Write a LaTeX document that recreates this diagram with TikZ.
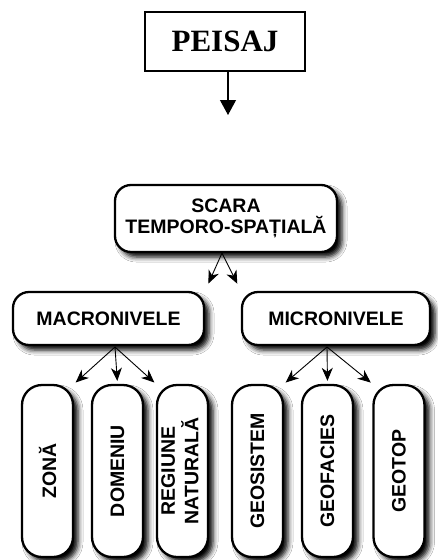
\documentclass[tikz,border=0pt]{standalone}
\usepackage{fontspec}
\setmainfont{Liberation Serif}
\setsansfont{Liberation Sans}
\usetikzlibrary{arrows.meta,shadows.blur}

\tikzset{
  titlebox/.style={draw, line width=1.3pt, minimum width=160pt, minimum height=59pt,
    inner sep=0pt, font=\fontsize{31}{34}\selectfont\bfseries},
  levelbox/.style={draw, line width=2.3pt, fill=white, rounded corners=16pt,
    inner sep=0pt, align=center, font=\sffamily\bfseries\fontsize{19.5}{20.5}\selectfont,
    blur shadow={shadow xshift=5pt, shadow yshift=-5pt, shadow blur radius=5pt, shadow opacity=100}},
  unitbox/.style={levelbox, rounded corners=20pt, minimum width=51pt, minimum height=172pt},
  link/.style={line width=0.9pt, -{Stealth[length=13pt, width=11pt, inset=4pt]}},
  down/.style={line width=1.1pt, -{Triangle[length=15pt, width=16pt]}}
}

\begin{document}
\begin{tikzpicture}[x=1pt, y=-1pt]
  \useasboundingbox[fill=white] (0,0) rectangle (437,560);

  % top concept and its arrow
  \node[titlebox] (peisaj) at (225,41.5) {PEISAJ};
  \coordinate (peisajout) at (228,71);
  \coordinate (peisajend) at (228,115);
  \draw[down] (peisajout) -- (peisajend);

  % scale levels
  \node[levelbox, minimum width=222pt, minimum height=67pt] (scara) at (226,218.5)
    {SCARA\\TEMPORO-SPAȚIALĂ};
  \node[levelbox, minimum width=191pt, minimum height=53pt] (macro) at (108.5,318.5) {MACRONIVELE};
  \node[levelbox, minimum width=188pt, minimum height=53pt] (micro) at (336,318.5) {MICRONIVELE};

  % taxonomic units
  \node[unitbox] (zona)    at (47.5,471)  {\rotatebox{90}{ZONĂ}};
  \node[unitbox] (domeniu) at (117.5,471) {\rotatebox{90}{DOMENIU}};
  \node[unitbox] (regiune) at (182.5,471) {\rotatebox{90}{\begin{tabular}{@{}c@{}}REGIUNE\\NATURALĂ\end{tabular}}};
  \node[unitbox] (geosistem) at (257.5,471) {\rotatebox{90}{GEOSISTEM}};
  \node[unitbox] (geofacies) at (327.5,471) {\rotatebox{90}{GEOFACIES}};
  \node[unitbox] (geotop)    at (399,471)   {\rotatebox{90}{GEOTOP}};

  % branching points
  \coordinate (scaraout) at (222,253);
  \coordinate (macroout) at (115,347);
  \coordinate (microout) at (327,347);

  \draw[link, shorten >=8pt] (scaraout) -- (macro.north east);
  \draw[link, shorten >=8pt] (scaraout) -- (micro.north west);

  \draw[link, shorten >=2pt] (macroout) -- (zona.north east);
  \draw[link, shorten >=3pt] (macroout) -- (domeniu.north);
  \draw[link, shorten >=2pt] (macroout) -- (regiune.north west);

  \draw[link, shorten >=2pt] (microout) -- (geosistem.north east);
  \draw[link, shorten >=3pt] (microout) -- (geofacies.north);
  \draw[link, shorten >=2pt] (microout) -- (geotop.north west);
\end{tikzpicture}
\end{document}
